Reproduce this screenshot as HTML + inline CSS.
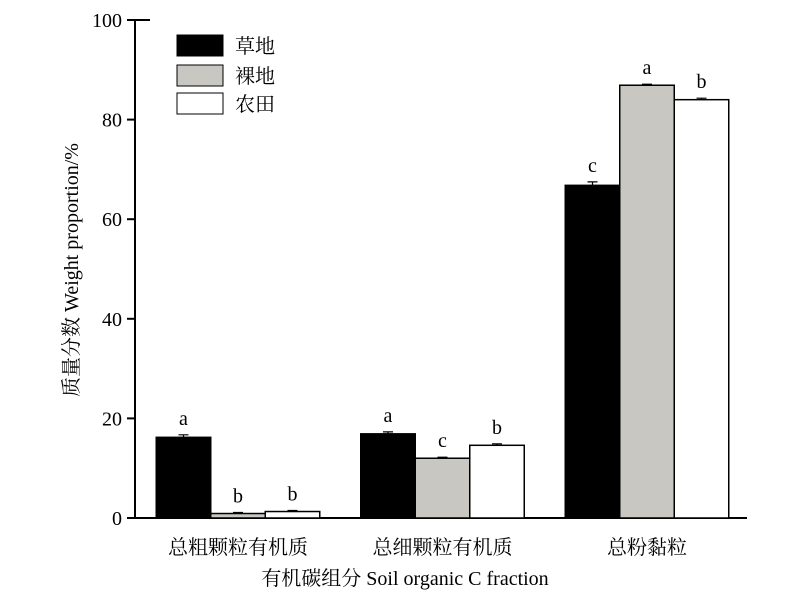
<!DOCTYPE html>
<html><head><meta charset="utf-8"><style>
body{margin:0;background:#fff}
svg text{font-family:"Liberation Serif","Noto Serif CJK SC","Noto Sans CJK SC",serif;fill:#000}
</style></head><body>
<svg width="800" height="602" xmlns="http://www.w3.org/2000/svg">
<g id="plot"></g>
<g>
<rect x="177" y="35" width="46" height="21" fill="#000" stroke="#000"/>
<text x="235" y="53" font-size="20">草地</text>
<rect x="177" y="65" width="46" height="21" fill="#c8c7c2" stroke="#000"/>
<text x="235" y="83" font-size="20">裸地</text>
<rect x="177" y="93" width="46" height="21" fill="#fff" stroke="#000"/>
<text x="235" y="111" font-size="20">农田</text>
</g>
<text x="405" y="585" font-size="20" text-anchor="middle">有机碳组分 Soil organic C fraction</text>
<text transform="translate(78,270) rotate(-90)" font-size="20" text-anchor="middle">质量分数 Weight proportion/%</text>
</svg>
<script>
const categories=["总粗颗粒有机质","总细颗粒有机质","总粉黏粒"];
const grassland=[16.2,16.9,66.8];
const bareland=[0.9,12.0,86.9];
const farmland=[1.3,14.6,84.0];
const grassErr=[0.5,0.4,0.7];
const bareErr=[0.2,0.2,0.2];
const farmErr=[0.2,0.3,0.3];
const grassSig=["a","a","c"];
const bareSig=["b","c","a"];
const farmSig=["b","b","b"];
const yTicks=[0,20,40,60,80,100];
const NS="http://www.w3.org/2000/svg";
const g=document.getElementById('plot');
const y=v=>518-v*4.98;
const xc=i=>238+i*204.5;
const bw=54.5;
function mk(t,a){const e=document.createElementNS(NS,t);for(const k in a)e.setAttribute(k,a[k]);g.appendChild(e);return e;}
const ax=mk('path',{d:'M150 20 H135 V518 H747',fill:'none',stroke:'#000','stroke-width':2});


yTicks.forEach(v=>{
 const t=mk('line',{x1:127,x2:135,y1:y(v),y2:y(v),stroke:'#000','stroke-width':2});
 
 
 const l=mk('text',{x:122,y:y(v)+7,'font-size':20,'text-anchor':'end'});
 l.textContent=v;
 
 
});
const series=[[grassland,grassErr,grassSig,'#000','grassland'],[bareland,bareErr,bareSig,'#c8c7c2','bareland'],[farmland,farmErr,farmSig,'#fff','farmland']];
categories.forEach((c,i)=>{
 series.forEach((s,j)=>{
  const v=s[0][i],e=s[1][i];
  const x0=xc(i)-1.5*bw+j*bw;
  const r=mk('rect',{x:x0,y:y(v),width:bw,height:y(0)-y(v),fill:s[3],stroke:'#000','stroke-width':1.5});
  
  
  const cx=x0+bw/2;
  const eb=mk('path',{d:`M${cx} ${y(v)} V${y(v+e)} M${cx-5} ${y(v+e)} H${cx+5}`,stroke:'#000','stroke-width':1.2,fill:'none'});
  
  
  const t=mk('text',{x:cx,y:y(v+e)-10,'font-size':20,'text-anchor':'middle'});
  t.textContent=s[2][i];
  
  
 });
 const l=mk('text',{x:xc(i),y:554,'font-size':20,'text-anchor':'middle'});
 l.textContent=c;
 
 
});
</script>
</body></html>
